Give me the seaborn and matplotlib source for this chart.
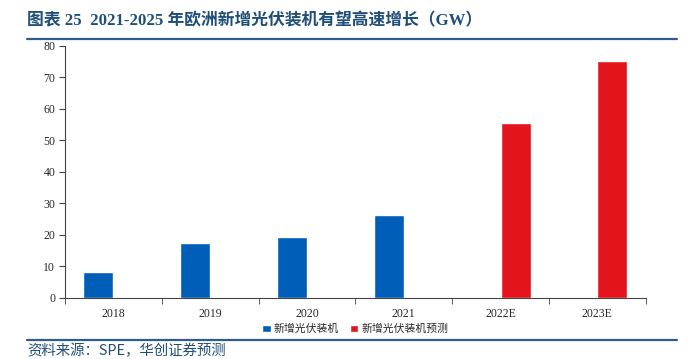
import pandas as pd
import matplotlib.pyplot as plt
import seaborn as sns

# data
years = ['2018', '2019', '2020', '2021', '2022E', '2023E']
installed = [8.4, 17.3, 19.2, 26.2, None, None]
forecast = [None, None, None, None, 55.4, 75.3]
series_names = ['新增光伏装机', '新增光伏装机预测']

rows = []
for y, a, b in zip(years, installed, forecast):
    rows.append({'year': y, 'value': a, 'series': series_names[0]})
    rows.append({'year': y, 'value': b, 'series': series_names[1]})
df = pd.DataFrame(rows)

sns.set_style('ticks')
plt.rcParams['font.family'] = ['Liberation Serif', 'Noto Sans CJK SC', 'DejaVu Sans']

fig = plt.figure(figsize=(6.93, 3.59), dpi=100)
ax = fig.add_axes([0.0938, 0.170, 0.838, 0.702])

# Excel-style clustered bars: two series dodged, empty slot left blank
sns.barplot(data=df, x='year', y='value', hue='series', order=years,
            hue_order=series_names,
            palette={series_names[0]: '#005EB8', series_names[1]: '#E3141B'},
            dodge=True, width=0.62, saturation=1, ax=ax)

ax.set_ylim(0, 80)
ax.set_yticks(range(0, 81, 10))
ax.set_xlim(-0.5, 5.5)
ax.set_xlabel('')
ax.set_ylabel('')
ax.set_xticks([i + 0.5 for i in range(-1, 6)], minor=True)
ax.tick_params(axis='x', which='major', length=0, labelsize=8.5, pad=7)
ax.tick_params(axis='x', which='minor', length=4, color='#444444')
ax.tick_params(axis='y', length=4, labelsize=8.5, color='#444444', pad=3)
sns.despine(ax=ax)
for s in ['left', 'bottom']:
    ax.spines[s].set_color('#444444')
    ax.spines[s].set_linewidth(0.8)

ax.legend(loc='upper center', bbox_to_anchor=(0.5, -0.065), ncol=2, frameon=False,
          handlelength=0.75, handleheight=0.75, columnspacing=1.0,
          handletextpad=0.3, prop={'family': ['Noto Sans CJK SC'], 'size': 7.8})

# title and frame lines
fig.text(0.039, 0.94, '图表 25  2021-2025 年欧洲新增光伏装机有望高速增长（GW）',
         fontsize=12.1, fontweight='bold', color='#1F4E79', va='center',
         family=['Liberation Serif', 'Noto Sans CJK SC'])
fig.add_artist(plt.Line2D([0.039, 0.977], [0.89, 0.89], color='#2F5C8F', lw=1.6))
fig.add_artist(plt.Line2D([0.039, 0.977], [0.052, 0.052], color='#2F5C8F', lw=1.6))
fig.text(0.039, 0.022, '资料来源：SPE，华创证券预测', fontsize=10.4, color='#1F4E79',
         style='italic', va='center', family=['Noto Sans CJK SC'])

fig.savefig('out.png', dpi=100)
